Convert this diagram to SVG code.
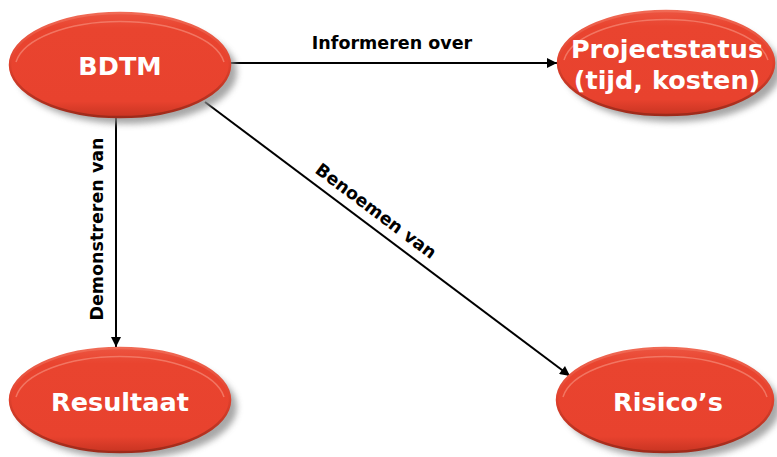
<svg xmlns="http://www.w3.org/2000/svg" width="777" height="457" viewBox="0 0 777 457">
<style>
.node-text{font-family:"DejaVu Sans","Verdana",sans-serif;font-weight:bold;font-size:25.5px;fill:#ffffff;text-anchor:middle}
.label{font-family:"DejaVu Sans","Verdana",sans-serif;font-weight:bold;font-size:17.5px;fill:#000000;text-anchor:middle}
.edge{stroke:#000;stroke-width:2;fill:none;marker-end:url(#arrow)}
.shadow{fill:#8a8a8a;opacity:0.75;filter:url(#blur)}
.body{fill:url(#fillGrad);stroke:url(#rimGrad);stroke-width:2.5}
.hl{fill:none;stroke:#f58a78;stroke-width:1.5;opacity:0.7}
</style>
<defs>
<filter id="blur" x="-20%" y="-20%" width="140%" height="140%"><feGaussianBlur stdDeviation="3"/></filter>
<linearGradient id="fillGrad" x1="0" y1="0" x2="0" y2="1">
<stop offset="0" stop-color="#ec5440"/>
<stop offset="0.15" stop-color="#e9442f"/>
<stop offset="0.85" stop-color="#e8422e"/>
<stop offset="1" stop-color="#c83422"/>
</linearGradient>
<linearGradient id="rimGrad" x1="0" y1="0" x2="0" y2="1">
<stop offset="0" stop-color="#f06a55"/>
<stop offset="0.5" stop-color="#e0402c"/>
<stop offset="1" stop-color="#9e2a1a"/>
</linearGradient>
<marker id="arrow" viewBox="0 0 10 10" refX="10" refY="5" markerWidth="6" markerHeight="5" orient="auto" markerUnits="strokeWidth">
<path d="M0,0 L10,5 L0,10 z" fill="#000"/>
</marker>
</defs>

<g id="connectors">
<line class="edge" x1="230" y1="63" x2="557" y2="63"/>
<line class="edge" x1="116" y1="117" x2="116" y2="347"/>
<line class="edge" x1="205" y1="102" x2="570" y2="376"/>
<text class="label" x="392" y="49">Informeren over</text>
<text class="label" transform="translate(103,229) rotate(-90)">Demonstreren van</text>
<text class="label" transform="translate(372.4,215.8) rotate(36.9)">Benoemen van</text>
</g>

<g id="node-bdtm">
<ellipse class="shadow" cx="127" cy="72" rx="110" ry="52"/>
<ellipse class="body" cx="120" cy="65" rx="110" ry="52"/>
<path class="hl" d="M16,62 A105,47 0 0 1 224,62"/>
<text class="node-text" x="120" y="75">BDTM</text>
</g>

<g id="node-projectstatus">
<ellipse class="shadow" cx="673" cy="70" rx="108" ry="52"/>
<ellipse class="body" cx="666" cy="63" rx="108" ry="52"/>
<path class="hl" d="M564,60 A103,47 0 0 1 768,60"/>
<text class="node-text" x="667" y="58">Projectstatus</text>
<text class="node-text" x="667" y="89">(tijd, kosten)</text>
</g>

<g id="node-resultaat">
<ellipse class="shadow" cx="127" cy="407" rx="110" ry="52"/>
<ellipse class="body" cx="120" cy="400" rx="110" ry="52"/>
<path class="hl" d="M16,397 A105,47 0 0 1 224,397"/>
<text class="node-text" x="120" y="411">Resultaat</text>
</g>

<g id="node-risicos">
<ellipse class="shadow" cx="672" cy="407" rx="108" ry="52"/>
<ellipse class="body" cx="665" cy="400" rx="108" ry="52"/>
<path class="hl" d="M563,397 A103,47 0 0 1 767,397"/>
<text class="node-text" x="668" y="411">Risico’s</text>
</g>
</svg>
